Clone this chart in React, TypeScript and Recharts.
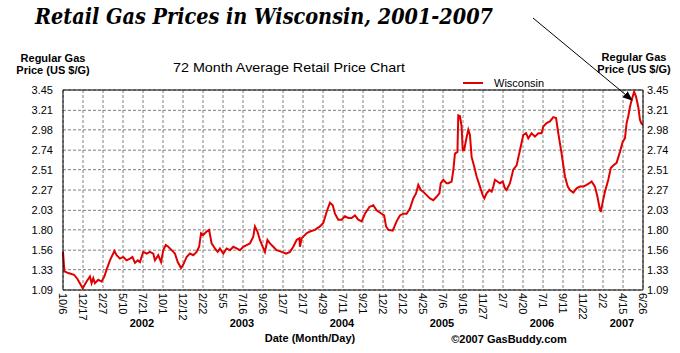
import React from "react";
import {
  LineChart,
  Line,
  XAxis,
  YAxis,
  CartesianGrid,
  ReferenceLine,
  Legend,
} from "recharts";

// days since 10/6/2001
const priceDays = [
  0, 5, 19, 40, 52, 71, 85, 97, 103, 109, 115, 127, 139, 149, 157, 169, 185,
  193, 205, 217, 229, 241, 250, 259, 269, 277, 289, 301, 313, 325, 331, 343,
  353, 361, 370, 379, 391, 403, 413, 425, 433, 445, 457, 469, 481, 490, 497,
  505, 517, 526, 535, 547, 557, 565, 577, 589, 601, 613, 625, 637, 649, 661,
  673, 685, 691, 700, 709, 719, 727, 736, 745, 757, 769, 787, 803, 817, 829,
  841, 851, 853, 859, 865, 877, 889, 907, 925, 937, 949, 961, 971, 979, 991,
  1003, 1015, 1027, 1039, 1051, 1063, 1075, 1087, 1103, 1117, 1129, 1147, 1156,
  1163, 1171, 1187, 1201, 1213, 1225, 1237, 1249, 1261, 1271, 1279, 1288, 1297,
  1309, 1321, 1333, 1345, 1355, 1360, 1369, 1381, 1387, 1399, 1405, 1411, 1420,
  1423, 1429, 1435, 1439, 1444, 1451, 1459, 1465, 1471, 1480, 1489, 1501, 1511,
  1517, 1525, 1535, 1543, 1549, 1555, 1564, 1573, 1583, 1591, 1597, 1609, 1621,
  1633, 1645, 1657, 1667, 1675, 1687, 1699, 1711, 1723, 1729, 1741, 1753, 1765,
  1775, 1783, 1795, 1807, 1817, 1825, 1837, 1849, 1861, 1873, 1885, 1895, 1903,
  1915, 1924, 1931, 1936, 1943, 1951, 1963, 1972, 1981, 1993, 2005, 2015, 2023,
  2029, 2035, 2041, 2047, 2056, 2063, 2071, 2077, 2083, 2088,
];

const prices = [
  1.54, 1.31, 1.29, 1.27, 1.22, 1.11, 1.19, 1.25, 1.17, 1.23, 1.17, 1.21, 1.19,
  1.25, 1.33, 1.44, 1.55, 1.5, 1.46, 1.48, 1.44, 1.46, 1.48, 1.41, 1.44, 1.42,
  1.54, 1.52, 1.54, 1.52, 1.44, 1.5, 1.42, 1.56, 1.62, 1.6, 1.56, 1.52, 1.42,
  1.35, 1.39, 1.48, 1.52, 1.5, 1.54, 1.6, 1.76, 1.74, 1.78, 1.8, 1.64, 1.58,
  1.54, 1.58, 1.52, 1.58, 1.56, 1.6, 1.58, 1.56, 1.6, 1.62, 1.64, 1.72, 1.84,
  1.78, 1.68, 1.6, 1.54, 1.68, 1.64, 1.6, 1.56, 1.54, 1.52, 1.54, 1.6, 1.68,
  1.7, 1.6, 1.7, 1.72, 1.76, 1.78, 1.8, 1.84, 1.88, 2.01, 2.12, 2.09, 1.99,
  1.92, 1.92, 1.96, 1.94, 1.94, 1.97, 1.92, 1.9, 1.99, 2.07, 2.09, 2.03, 1.99,
  1.97, 1.84, 1.8, 1.79, 1.9, 1.97, 1.99, 1.99, 2.05, 2.17, 2.23, 2.33, 2.27,
  2.25, 2.21, 2.17, 2.15, 2.19, 2.23, 2.35, 2.39, 2.35, 2.35, 2.37, 2.5, 2.7,
  2.72, 3.15, 3.14, 3.02, 2.74, 2.74, 2.86, 2.98, 2.92, 2.66, 2.55, 2.43, 2.31,
  2.21, 2.17, 2.23, 2.27, 2.25, 2.31, 2.39, 2.37, 2.35, 2.37, 2.29, 2.27, 2.35,
  2.51, 2.56, 2.74, 2.92, 2.94, 2.88, 2.94, 2.9, 2.94, 2.94, 3.02, 3.06, 3.08,
  3.13, 3.12, 2.94, 2.7, 2.43, 2.31, 2.27, 2.24, 2.29, 2.31, 2.31, 2.33, 2.35,
  2.37, 2.31, 2.19, 2.07, 2.01, 2.13, 2.25, 2.39, 2.53, 2.56, 2.59, 2.72, 2.84,
  2.88, 3.06, 3.14, 3.25, 3.33, 3.43, 3.37, 3.25, 3.1, 3.05, 3.04,
];

const dateLabels = [
  "10/6", "12/17", "2/27", "5/10", "7/21", "10/1", "12/12", "2/22", "5/5",
  "7/16", "9/26", "12/7", "2/17", "4/29", "7/11", "9/21", "12/2", "2/12",
  "4/25", "7/6", "9/16", "11/27", "2/7", "4/20", "7/1", "9/11", "11/22", "2/2",
  "4/15", "6/26",
];
const tickStepDays = 72;

const yearLabels = ["2002", "2003", "2004", "2005", "2006", "2007"];
const yearDays = [284, 644, 1004, 1364, 1724, 2012];

const yTicks = [1.09, 1.33, 1.56, 1.8, 2.03, 2.27, 2.51, 2.74, 2.98, 3.21, 3.45];

const data = priceDays.map((day, i) => ({ day, price: prices[i] }));
const dateTicks = dateLabels.map((_, i) => i * tickStepDays);
const lastDay = dateTicks[dateTicks.length - 1];

const RED = "#e10000";
const SANS = "'Liberation Sans', Arial, sans-serif";

const DateTick = (props: any) => {
  const { x, y, payload } = props;
  const label = dateLabels[Math.round(payload.value / tickStepDays)];
  return (
    <text
      transform={`translate(${x},${y + 3}) rotate(90)`}
      textAnchor="start"
      dy="0.35em"
      fontSize={11}
      fontFamily={SANS}
      fill="#000"
    >
      {label}
    </text>
  );
};

const YearTick = (props: any) => {
  const { x, y, payload } = props;
  const label = yearLabels[yearDays.indexOf(payload.value)];
  return (
    <text
      x={x}
      y={y + 7.5}
      textAnchor="middle"
      dy="0.35em"
      fontSize={11}
      fontWeight="bold"
      fontFamily={SANS}
      fill="#000"
    >
      {label}
    </text>
  );
};

const LegendContent = () => (
  <svg width={90} height={14} style={{ display: "block" }}>
    <line x1={3} y1={8} x2={23} y2={8} stroke={RED} strokeWidth={2} />
    <text x={34} y={8} dy="0.35em" fontSize={11} fontFamily={SANS} fill="#000">
      Wisconsin
    </text>
  </svg>
);

export default function App() {
  const axisTitle = {
    fontSize: 11,
    fontWeight: "bold" as const,
    fontFamily: SANS,
    fill: "#000",
    textAnchor: "middle" as const,
  };
  return (
    <div
      style={{
        position: "absolute",
        left: 0,
        top: 0,
        width: 680,
        height: 353,
        background: "#fff",
      }}
    >
      <LineChart
        width={680}
        height={353}
        data={data}
        margin={{ top: 90, right: 0, bottom: 0, left: 0 }}
      >
        <CartesianGrid
          xAxisId="dates"
          yAxisId="left"
          stroke="#808080"
          strokeDasharray="3 2"
        />
        <XAxis
          xAxisId="dates"
          dataKey="day"
          type="number"
          domain={[0, lastDay]}
          ticks={dateTicks}
          interval={0}
          height={26}
          tickSize={0}
          tickMargin={0}
          tickLine={false}
          axisLine={{ stroke: "#000" }}
          tick={<DateTick />}
        />
        <XAxis
          xAxisId="years"
          dataKey="day"
          type="number"
          domain={[0, lastDay]}
          ticks={yearDays}
          interval={0}
          height={37}
          tickSize={0}
          tickMargin={0}
          tickLine={false}
          axisLine={false}
          tick={<YearTick />}
        />
        <YAxis
          yAxisId="left"
          domain={[1.09, 3.45]}
          ticks={yTicks}
          interval={0}
          allowDataOverflow
          width={63}
          tickSize={0}
          tickMargin={10}
          tickLine={false}
          axisLine={{ stroke: "#000" }}
          tickFormatter={(v) => v.toFixed(2)}
          tick={{ fontSize: 11, fontFamily: SANS, fill: "#000" }}
        />
        <YAxis
          yAxisId="right"
          orientation="right"
          domain={[1.09, 3.45]}
          ticks={yTicks}
          interval={0}
          allowDataOverflow
          width={37}
          tickSize={0}
          tickMargin={4}
          tickLine={false}
          axisLine={{ stroke: "#000" }}
          tickFormatter={(v) => v.toFixed(2)}
          tick={{ fontSize: 11, fontFamily: SANS, fill: "#000", textAnchor: "start" }}
        />
        <ReferenceLine
          xAxisId="dates"
          yAxisId="left"
          y={3.45}
          stroke="#000"
          strokeWidth={1}
        />
        <Legend
          layout="vertical"
          align="center"
          verticalAlign="middle"
          wrapperStyle={{ left: 460, top: 75, width: 90 }}
          content={<LegendContent />}
        />
        <Line
          xAxisId="dates"
          yAxisId="left"
          dataKey="price"
          name="Wisconsin"
          type="linear"
          stroke={RED}
          strokeWidth={2}
          dot={false}
          isAnimationActive={false}
        />
      </LineChart>
      <svg
        width={680}
        height={353}
        style={{ position: "absolute", left: 0, top: 0, pointerEvents: "none" }}
      >
        <defs>
          <marker
            id="arrowhead"
            markerWidth="10"
            markerHeight="8"
            refX="9"
            refY="4"
            orient="auto"
            markerUnits="userSpaceOnUse"
          >
            <path d="M0,0 L10,4 L0,8 Z" fill="#000" />
          </marker>
        </defs>
        <text
          x={35}
          y={24}
          fontSize={22}
          fontWeight="bold"
          fontStyle="italic"
          fontFamily="'DejaVu Serif', Georgia, serif"
          textLength={458}
          lengthAdjust="spacingAndGlyphs"
          fill="#000"
        >
          Retail Gas Prices in Wisconsin, 2001-2007
        </text>
        <text x={53} y={61.5} {...axisTitle}>Regular Gas</text>
        <text x={53} y={73.5} {...axisTitle}>Price (US $/G)</text>
        <text x={634} y={61} {...axisTitle}>Regular Gas</text>
        <text x={634} y={73} {...axisTitle}>Price (US $/G)</text>
        <text
          x={173}
          y={72}
          fontSize={13}
          fontFamily={SANS}
          textLength={232}
          lengthAdjust="spacingAndGlyphs"
          fill="#000"
        >
          72 Month Average Retail Price Chart
        </text>
        <text x={310} y={342} {...axisTitle}>Date (Month/Day)</text>
        <text x={509} y={342.5} {...axisTitle}>©2007 GasBuddy.com</text>
        <line
          x1={533}
          y1={18}
          x2={632}
          y2={100}
          stroke="#000"
          strokeWidth={1}
          markerEnd="url(#arrowhead)"
        />
      </svg>
    </div>
  );
}
